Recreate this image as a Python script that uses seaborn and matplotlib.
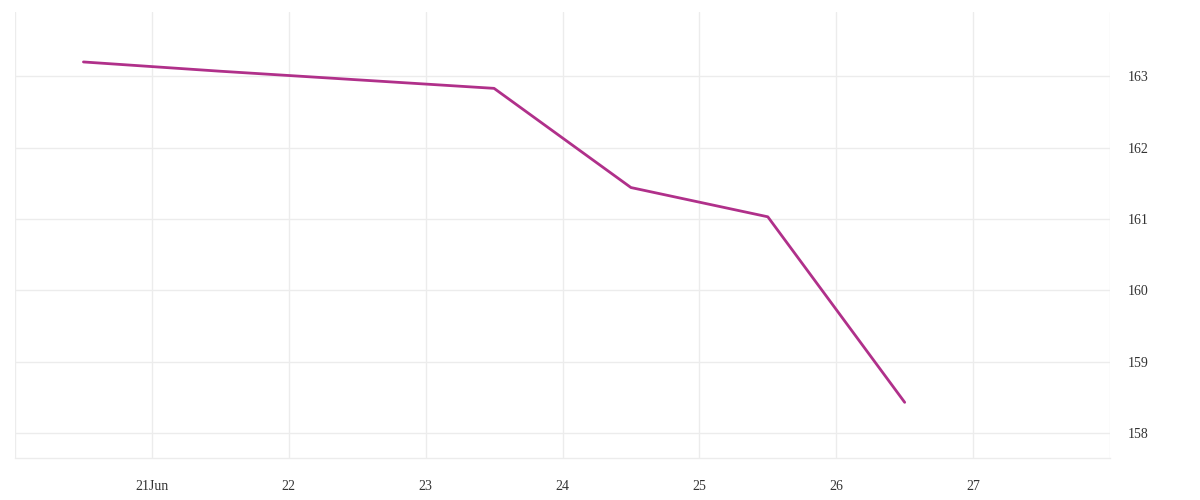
import matplotlib
matplotlib.use("Agg")
import matplotlib.pyplot as plt
import pandas as pd
import seaborn as sns

# values
dates = ["2024-06-20 12:00", "2024-06-21 12:00", "2024-06-22 12:00",
         "2024-06-23 12:00", "2024-06-24 12:00", "2024-06-25 12:00",
         "2024-06-26 12:00"]
prices = [163.20, 163.07, 162.95, 162.83, 161.44, 161.03, 158.43]
tick_days = ["2024-06-20", "2024-06-21", "2024-06-22", "2024-06-23",
             "2024-06-24", "2024-06-25", "2024-06-26", "2024-06-27",
             "2024-06-28"]
tick_labels = ["", "21Jun", "22", "23", "24", "25", "26", "27", ""]
y_ticks = [158, 159, 160, 161, 162, 163]

df = pd.DataFrame({"date": pd.to_datetime(dates), "price": prices})

sns.set_theme(style="white")
plt.rcParams["font.family"] = ["Liberation Serif", "DejaVu Serif"]

grid_col = "#ececec"
text_col = "#333333"

fig = plt.figure(figsize=(12, 5), dpi=100)
ax = fig.add_axes([15 / 1200, 42 / 500, 1095 / 1200, 446 / 500])

sns.lineplot(data=df, x="date", y="price", ax=ax, color="#b0308a",
             linewidth=2.0)

ticks = pd.to_datetime(tick_days)
ax.set_xlim(ticks[0], ticks[-1])
ax.set_xticks(ticks)
ax.set_xticklabels(tick_labels)
ax.set_ylim(157.65, 163.9)
ax.set_yticks(y_ticks)
ax.yaxis.tick_right()

ax.grid(True, color=grid_col, linewidth=1)
ax.set_axisbelow(True)
for side in ["top", "left", "right"]:
    ax.spines[side].set_visible(False)
ax.spines["bottom"].set_color(grid_col)
ax.spines["bottom"].set_linewidth(1)

ax.tick_params(axis="x", length=9, width=1, color=grid_col, pad=7,
               labelsize=10, labelcolor=text_col)
ax.tick_params(axis="y", length=0, pad=13, labelsize=10, labelcolor=text_col)
ax.set_xlabel("")
ax.set_ylabel("")

fig.savefig("out.png", dpi=100, facecolor="white")
